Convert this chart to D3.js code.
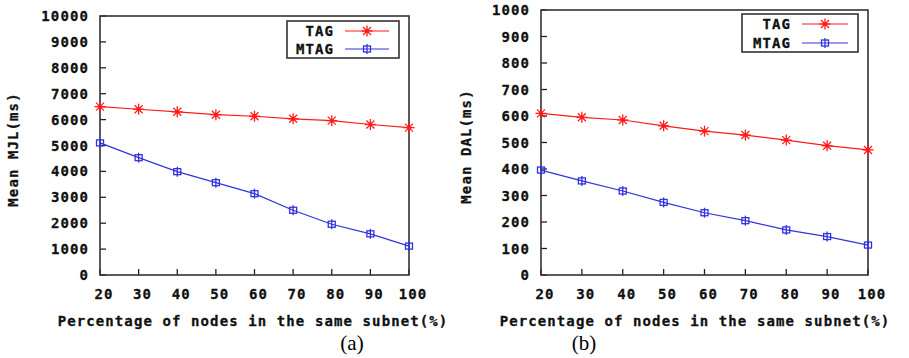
<!doctype html>
<html>
  <head>
    <meta charset="utf-8">
    <script src="https://cdn.jsdelivr.net/npm/d3@7/dist/d3.min.js"></script>
    <style>
      body { margin: 0; background: #fff; }
      text.px { font-family: "DejaVu Sans Mono", monospace; font-weight: bold; font-size: 14px; letter-spacing: 1.1px; fill: #111; stroke: #111; stroke-width: 0.3px; }
      text.cap { font-family: "Liberation Serif", "Times New Roman", serif; font-size: 21px; fill: #000; }
    </style>
  </head>
  <body>
    <div id="chart"></div>
  </body>
  <script>
    var percentages = [20, 30, 40, 50, 60, 70, 80, 90, 100];
    var seriesNames = ["TAG", "MTAG"];

    // (a) mean MJL in ms
    var mjlTag  = [6500, 6400, 6300, 6190, 6130, 6030, 5960, 5810, 5690];
    var mjlMtag = [5100, 4530, 3990, 3565, 3140, 2500, 1960, 1590, 1115];
    var mjlTicks = [0, 1000, 2000, 3000, 4000, 5000, 6000, 7000, 8000, 9000, 10000];

    // (b) mean DAL in ms
    var dalTag  = [610, 595, 585, 563, 543, 528, 509, 488, 472];
    var dalMtag = [396, 355, 317, 274, 235, 205, 170, 145, 113];
    var dalTicks = [0, 100, 200, 300, 400, 500, 600, 700, 800, 900, 1000];

    var width = 909,
      height = 358;

    var svg = d3.select("#chart")
                .append("svg")
                .attr("width", width)
                .attr("height", height);

    var colours = { TAG: "#ff1a1a", MTAG: "#3333dd" };

    function drawStar(g, x, y, c) {
      var r = 5.5, d = 4;
      var m = g.append("g").attr("transform", "translate(" + x + "," + y + ")")
        .attr("stroke", c).attr("stroke-width", 1.3);
      m.append("line").attr("x1", -r).attr("x2", r).attr("y1", 0).attr("y2", 0);
      m.append("line").attr("x1", 0).attr("x2", 0).attr("y1", -r).attr("y2", r);
      m.append("line").attr("x1", -d).attr("x2", d).attr("y1", -d).attr("y2", d);
      m.append("line").attr("x1", -d).attr("x2", d).attr("y1", d).attr("y2", -d);
      m.append("circle").attr("r", 2).attr("fill", c).attr("stroke", "none");
    }

    function drawBox(g, x, y, c) {
      var m = g.append("g").attr("transform", "translate(" + x + "," + y + ")")
        .attr("stroke", c).attr("stroke-width", 1.3).attr("fill", "none");
      m.append("rect").attr("x", -3.5).attr("y", -3).attr("width", 7).attr("height", 6);
      m.append("line").attr("x1", 0).attr("x2", 0).attr("y1", -5).attr("y2", 5);
    }

    function drawPanel(p) {
      var g = svg.append("g");
      var x = d3.scaleLinear().domain([20, 100]).range([p.left, p.right]);
      var y = d3.scaleLinear().domain([0, p.yMax]).range([p.bottom, p.top]);

      // ticks
      p.yTicks.forEach(function(t) {
        g.append("line").attr("x1", p.left).attr("x2", p.left + 6)
          .attr("y1", y(t)).attr("y2", y(t)).attr("stroke", "#222").attr("stroke-width", 1.3);
        g.append("text").attr("class", "px").attr("x", p.left - 11).attr("y", y(t))
          .attr("dy", "0.36em").attr("text-anchor", "end").text(t);
      });
      percentages.forEach(function(t) {
        g.append("line").attr("x1", x(t)).attr("x2", x(t))
          .attr("y1", p.bottom).attr("y2", p.bottom - 6).attr("stroke", "#222").attr("stroke-width", 1.3);
        g.append("text").attr("class", "px").attr("x", x(t) + 4).attr("y", p.bottom + 19)
          .attr("dy", "0.36em").attr("text-anchor", "middle").text(t);
      });

      // border
      g.append("rect").attr("x", p.left).attr("y", p.top)
        .attr("width", p.right - p.left).attr("height", p.bottom - p.top)
        .attr("fill", "none").attr("stroke", "#333").attr("stroke-width", 1.6);

      var line = d3.line()
        .x(function(d, i) { return x(percentages[i]); })
        .y(function(d) { return y(d); });

      [p.tag, p.mtag].forEach(function(vals, k) {
        var c = colours[seriesNames[k]];
        g.append("path").attr("d", line(vals)).attr("fill", "none")
          .attr("stroke", c).attr("stroke-width", 1.2);
        vals.forEach(function(v, i) {
          if (k === 0) drawStar(g, x(percentages[i]), y(v), c);
          else drawBox(g, x(percentages[i]), y(v), c);
        });
      });

      // legend
      var L = p.legend;
      g.append("rect").attr("x", L.x0).attr("y", L.y0)
        .attr("width", L.x1 - L.x0).attr("height", L.y1 - L.y0)
        .attr("fill", "#fff").attr("stroke", "#333").attr("stroke-width", 1.6);
      seriesNames.forEach(function(name, k) {
        var ly = L.rows[k], c = colours[name];
        g.append("text").attr("class", "px").attr("x", L.textEnd).attr("y", ly)
          .attr("dy", "0.36em").attr("text-anchor", "end").text(name);
        g.append("line").attr("x1", L.lineX0).attr("x2", L.lineX1)
          .attr("y1", ly).attr("y2", ly).attr("stroke", c).attr("stroke-width", 1.2);
        if (k === 0) drawStar(g, (L.lineX0 + L.lineX1) / 2, ly, c);
        else drawBox(g, (L.lineX0 + L.lineX1) / 2, ly, c);
      });

      // axis titles
      g.append("text").attr("class", "px")
        .attr("transform", "translate(" + p.yLabelX + "," + ((p.top + p.bottom) / 2 + 4) + ") rotate(-90)")
        .attr("dy", "0.36em").attr("text-anchor", "middle").text(p.yLabel);
      g.append("text").attr("class", "px").attr("x", p.xLabelX).attr("y", 321)
        .attr("dy", "0.36em").attr("text-anchor", "middle").text("Percentage of nodes in the same subnet(%)");
      g.append("text").attr("class", "cap").attr("x", p.capX).attr("y", 350)
        .attr("text-anchor", "middle").text(p.caption);
    }

    drawPanel({
      left: 100, right: 409, top: 16, bottom: 275, yMax: 10000, yTicks: mjlTicks,
      tag: mjlTag, mtag: mjlMtag, yLabel: "Mean MJL(ms)", yLabelX: 13, xLabelX: 253,
      caption: "(a)", capX: 352,
      legend: { x0: 287, x1: 399, y0: 21, y1: 58, rows: [31, 49], textEnd: 334, lineX0: 345, lineX1: 389 }
    });

    drawPanel({
      left: 541, right: 868, top: 10, bottom: 275, yMax: 1000, yTicks: dalTicks,
      tag: dalTag, mtag: dalMtag, yLabel: "Mean DAL(ms)", yLabelX: 466, xLabelX: 695,
      caption: "(b)", capX: 584,
      legend: { x0: 742, x1: 858, y0: 14, y1: 52, rows: [24, 43], textEnd: 791, lineX0: 802, lineX1: 848 }
    });
  </script>
</html>
